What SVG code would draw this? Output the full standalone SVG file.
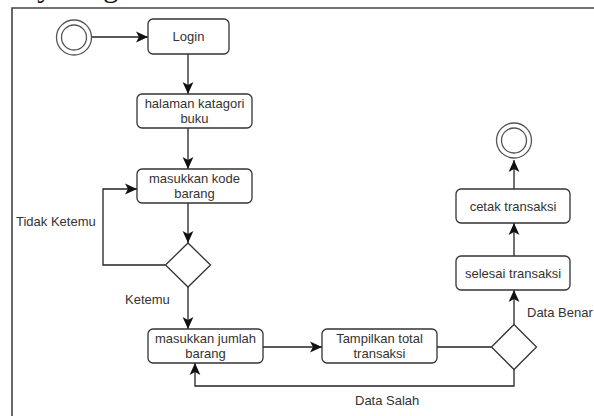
<svg xmlns="http://www.w3.org/2000/svg" width="594" height="416" viewBox="0 0 594 416">
<defs>
<style>
.box{fill:#fff;stroke:#333;stroke-width:1.3}
.dia{fill:#fff;stroke:#333;stroke-width:1.3}
.ring{fill:none;stroke:#555;stroke-width:1.3}
.t{font-family:"Liberation Sans",Arial,sans-serif;font-size:13px;fill:#333;text-anchor:middle}
.lbl{font-family:"Liberation Sans",Arial,sans-serif;font-size:13px;fill:#333}
.edge{fill:none;stroke:#222;stroke-width:1.3}
.frame{fill:none;stroke:#444;stroke-width:1.6}
</style>
<marker id="arr" markerUnits="userSpaceOnUse" markerWidth="12" markerHeight="12" viewBox="0 0 10 10" refX="10" refY="5" orient="auto">
<path d="M0,0.5 L10,5 L0,9.5 L2.5,5 z" fill="#111"/>
</marker>
</defs>
<rect width="594" height="416" fill="#fff"/>
<text x="-46" y="-3.5" style="font-family:'Liberation Serif','Times New Roman',serif;font-size:30px;fill:#111">Activity Diagram</text>
<path class="frame" d="M12,417 V8 H595"/>

<g id="connectors">
<path class="edge" d="M92,37 H148" marker-end="url(#arr)"/>
<path class="edge" d="M188,54 V94" marker-end="url(#arr)"/>
<path class="edge" d="M188,128 V169" marker-end="url(#arr)"/>
<path class="edge" d="M188,203 V243" marker-end="url(#arr)"/>
<path class="edge" d="M165.5,265 H103 V189 H137" marker-end="url(#arr)"/>
<path class="edge" d="M188,287 V329" marker-end="url(#arr)"/>
<path class="edge" d="M263,347 H322" marker-end="url(#arr)"/>
<path class="edge" d="M437,347 H491.5"/>
<path class="edge" d="M514,369.5 V386 H195 V363" marker-end="url(#arr)"/>
<path class="edge" d="M514,324.5 V290" marker-end="url(#arr)"/>
<path class="edge" d="M514,256 V223" marker-end="url(#arr)"/>
<path class="edge" d="M514,189 V160" marker-end="url(#arr)"/>
<text class="lbl" x="16" y="225.5">Tidak Ketemu</text>
<text class="lbl" x="125" y="304">Ketemu</text>
<text class="lbl" x="355" y="404.5">Data Salah</text>
<text class="lbl" x="527" y="316.5">Data Benar</text>
</g>

<g id="start">
<circle class="ring" cx="74" cy="37.5" r="17.5"/>
<circle class="ring" cx="74" cy="37.5" r="12.5"/>
</g>

<g id="login">
<rect class="box" x="148" y="19" width="81" height="35" rx="5"/>
<text class="t" x="188.5" y="41">Login</text>
</g>

<g id="halaman">
<rect class="box" x="137" y="94" width="115" height="34" rx="5"/>
<text class="t" x="194.5" y="108">halaman katagori</text>
<text class="t" x="194.5" y="123">buku</text>
</g>

<g id="kode">
<rect class="box" x="137" y="169" width="115" height="34" rx="5"/>
<text class="t" x="194.5" y="183">masukkan kode</text>
<text class="t" x="194.5" y="198">barang</text>
</g>

<g id="decision1">
<polygon class="dia" points="188,243 210.5,265 188,287 165.5,265"/>
</g>

<g id="jumlah">
<rect class="box" x="148" y="329" width="115" height="34" rx="5"/>
<text class="t" x="205.5" y="343">masukkan jumlah</text>
<text class="t" x="205.5" y="358">barang</text>
</g>

<g id="tampilkan">
<rect class="box" x="322" y="329" width="115" height="34" rx="5"/>
<text class="t" x="379.5" y="343">Tampilkan total</text>
<text class="t" x="379.5" y="358">transaksi</text>
</g>

<g id="decision2">
<polygon class="dia" points="514,324.5 536.5,347 514,369.5 491.5,347"/>
</g>

<g id="selesai">
<rect class="box" x="456" y="256" width="114" height="34" rx="5"/>
<text class="t" x="513" y="277.5">selesai transaksi</text>
</g>

<g id="cetak">
<rect class="box" x="456" y="189" width="114" height="34" rx="5"/>
<text class="t" x="513" y="210.5">cetak transaksi</text>
</g>

<g id="end">
<circle class="ring" cx="514" cy="140.5" r="17.5"/>
<circle class="ring" cx="514" cy="140.5" r="12.5"/>
</g>
</svg>
